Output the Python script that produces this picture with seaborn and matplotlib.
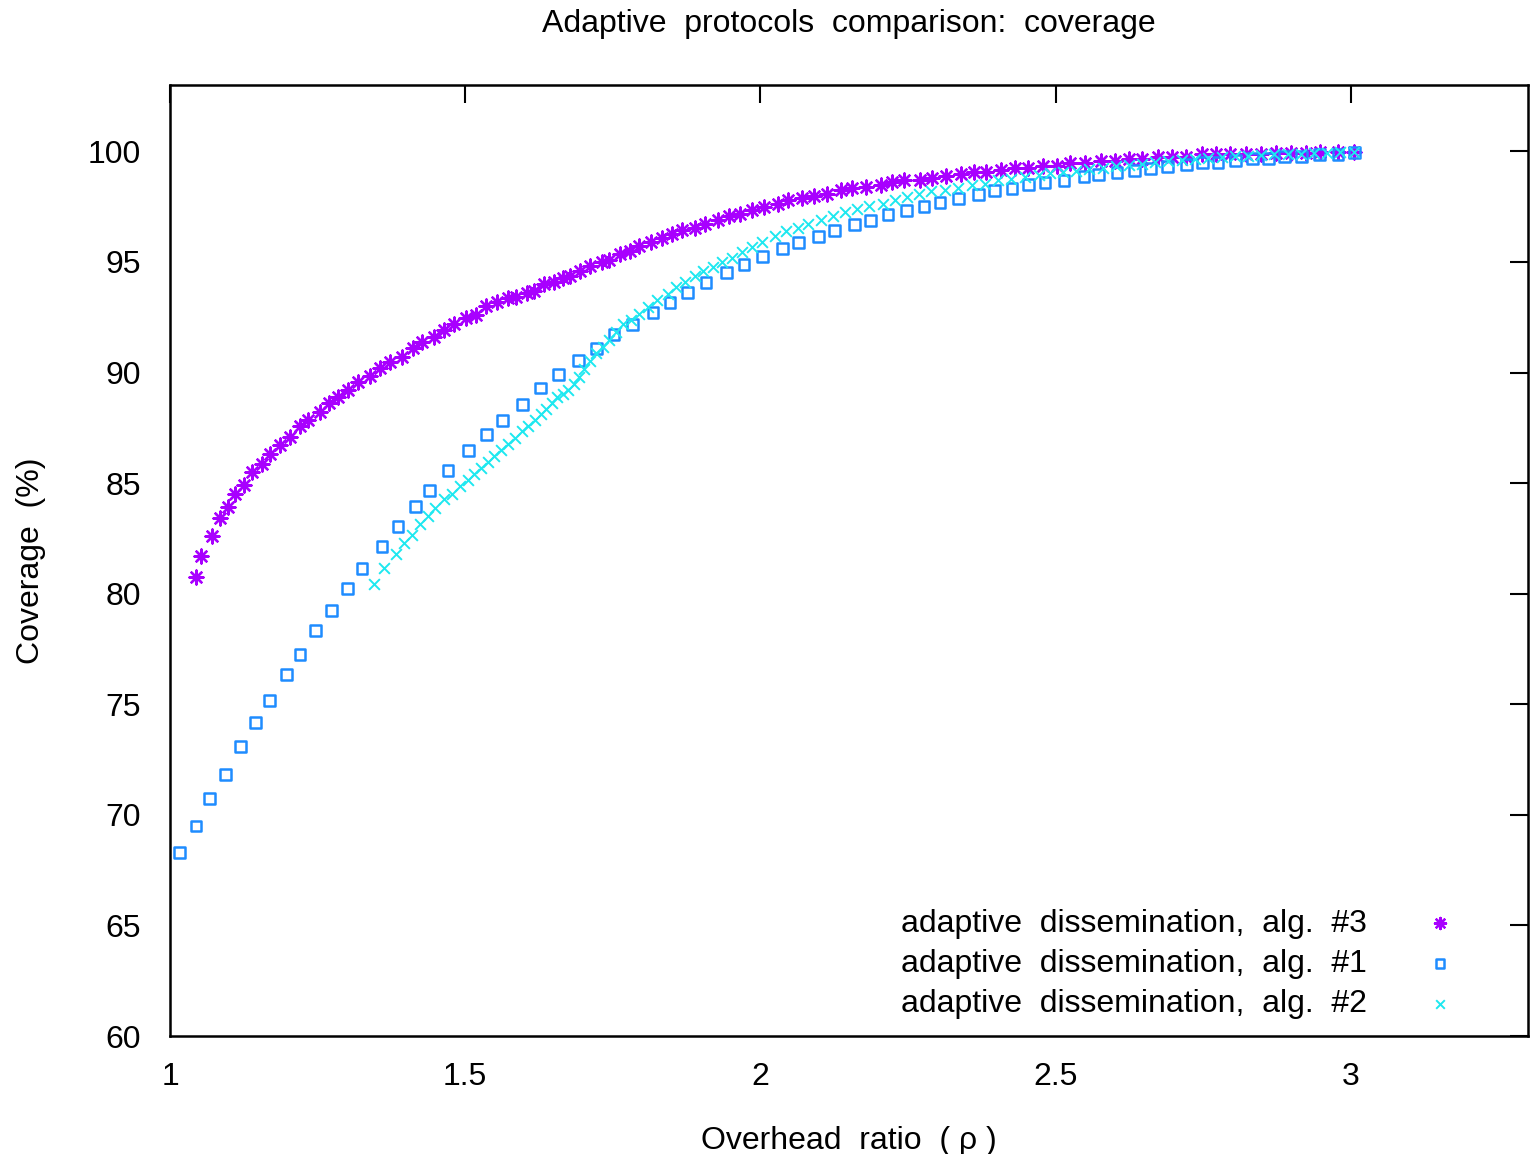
import matplotlib
matplotlib.use('Agg')
import matplotlib.pyplot as plt
import seaborn as sns

# data
x3 = [1.044, 1.053, 1.071, 1.084, 1.098, 1.110, 1.125, 1.139, 1.156, 1.170,
      1.186, 1.204, 1.220, 1.234, 1.254, 1.269, 1.285, 1.302, 1.318, 1.338,
      1.355, 1.372, 1.393, 1.411, 1.427, 1.447, 1.464, 1.481, 1.502, 1.519,
      1.536, 1.553, 1.573, 1.586, 1.604, 1.617, 1.634, 1.651, 1.666, 1.678,
      1.695, 1.712, 1.731, 1.743, 1.762, 1.779, 1.794, 1.814, 1.833, 1.851,
      1.868, 1.889, 1.906, 1.928, 1.946, 1.966, 1.986, 2.006, 2.030, 2.047,
      2.071, 2.091, 2.112, 2.136, 2.155, 2.179, 2.204, 2.223, 2.243, 2.270,
      2.291, 2.315, 2.339, 2.362, 2.382, 2.407, 2.431, 2.454, 2.479, 2.502,
      2.525, 2.549, 2.576, 2.600, 2.624, 2.647, 2.674, 2.697, 2.721, 2.748,
      2.772, 2.796, 2.823, 2.847, 2.874, 2.899, 2.924, 2.947, 2.978, 3.006]
y3 = [80.76, 81.7, 82.6, 83.4, 83.9, 84.5, 84.9, 85.5, 85.85, 86.3,
      86.7, 87.1, 87.6, 87.85, 88.2, 88.6, 88.9, 89.2, 89.56, 89.83,
      90.2, 90.46, 90.7, 91.1, 91.4, 91.6, 91.9, 92.2, 92.45, 92.6,
      93.0, 93.2, 93.35, 93.4, 93.6, 93.7, 94.0, 94.1, 94.26, 94.35,
      94.6, 94.8, 94.98, 95.07, 95.35, 95.5, 95.7, 95.9, 96.1, 96.25,
      96.46, 96.55, 96.7, 96.9, 97.06, 97.15, 97.36, 97.5, 97.6, 97.8,
      97.88, 97.97, 98.09, 98.24, 98.33, 98.4, 98.5, 98.6, 98.69, 98.69,
      98.78, 98.87, 98.99, 99.05, 99.05, 99.14, 99.23, 99.23, 99.35, 99.35,
      99.47, 99.47, 99.56, 99.56, 99.65, 99.65, 99.74, 99.74, 99.74, 99.86,
      99.86, 99.86, 99.9, 99.9, 99.92, 99.92, 99.92, 99.95, 99.95, 99.95]

x1 = [1.016, 1.044, 1.067, 1.094, 1.119, 1.145, 1.169, 1.197, 1.220, 1.247,
      1.274, 1.301, 1.325, 1.359, 1.386, 1.416, 1.440, 1.471, 1.505, 1.536,
      1.563, 1.597, 1.627, 1.658, 1.692, 1.722, 1.752, 1.783, 1.818, 1.847,
      1.877, 1.908, 1.942, 1.972, 2.003, 2.037, 2.064, 2.098, 2.125, 2.159,
      2.186, 2.216, 2.247, 2.277, 2.304, 2.335, 2.369, 2.396, 2.426, 2.454,
      2.482, 2.514, 2.548, 2.572, 2.604, 2.633, 2.660, 2.690, 2.721, 2.749,
      2.775, 2.804, 2.834, 2.861, 2.888, 2.917, 2.947, 2.978, 3.006]
y1 = [68.30, 69.49, 70.74, 71.83, 73.09, 74.18, 75.17, 76.35, 77.25, 78.34,
      79.24, 80.23, 81.14, 82.13, 83.04, 83.95, 84.68, 85.58, 86.49, 87.21,
      87.84, 88.56, 89.30, 89.92, 90.55, 91.08, 91.71, 92.18, 92.72, 93.18,
      93.63, 94.08, 94.53, 94.89, 95.25, 95.62, 95.89, 96.16, 96.43, 96.70,
      96.88, 97.15, 97.33, 97.51, 97.69, 97.88, 98.06, 98.24, 98.33, 98.51,
      98.60, 98.69, 98.87, 98.96, 99.05, 99.14, 99.23, 99.32, 99.41, 99.50,
      99.50, 99.59, 99.68, 99.68, 99.77, 99.77, 99.86, 99.86, 99.95]

x2 = [1.345, 1.362, 1.382, 1.396, 1.410, 1.424, 1.437, 1.449, 1.464, 1.478,
      1.492, 1.504, 1.515, 1.526, 1.539, 1.549, 1.561, 1.572, 1.585, 1.596,
      1.606, 1.618, 1.628, 1.637, 1.647, 1.656, 1.666, 1.674, 1.684, 1.692,
      1.702, 1.712, 1.722, 1.733, 1.743, 1.756, 1.767, 1.781, 1.795, 1.810,
      1.824, 1.843, 1.857, 1.873, 1.889, 1.903, 1.920, 1.935, 1.951, 1.968,
      1.986, 2.003, 2.024, 2.044, 2.064, 2.081, 2.102, 2.123, 2.143, 2.163,
      2.184, 2.207, 2.228, 2.248, 2.269, 2.289, 2.313, 2.335, 2.358, 2.380,
      2.403, 2.425, 2.448, 2.471, 2.490, 2.512, 2.535, 2.557, 2.580, 2.602,
      2.624, 2.647, 2.669, 2.691, 2.714, 2.736, 2.758, 2.781, 2.803, 2.826,
      2.848, 2.870, 2.893, 2.915, 2.937, 2.960, 2.982, 3.005]
y2 = [80.43, 81.14, 81.79, 82.30, 82.66, 83.14, 83.50, 83.88, 84.26, 84.50,
      84.89, 85.16, 85.40, 85.70, 85.96, 86.21, 86.49, 86.76, 87.06, 87.36,
      87.57, 87.87, 88.14, 88.37, 88.62, 88.89, 89.05, 89.23, 89.50, 89.80,
      90.18, 90.52, 90.86, 91.16, 91.46, 91.83, 92.18, 92.36, 92.66, 92.96,
      93.27, 93.57, 93.87, 94.09, 94.35, 94.59, 94.77, 95.00, 95.20, 95.45,
      95.67, 95.90, 96.16, 96.38, 96.55, 96.73, 96.91, 97.06, 97.26, 97.38,
      97.51, 97.64, 97.79, 97.93, 98.09, 98.21, 98.27, 98.36, 98.46, 98.54,
      98.69, 98.77, 98.84, 98.92, 99.00, 99.07, 99.13, 99.20, 99.26, 99.32,
      99.38, 99.44, 99.50, 99.55, 99.60, 99.65, 99.69, 99.73, 99.77, 99.80,
      99.83, 99.86, 99.88, 99.90, 99.92, 99.94, 99.95, 99.97]

labels = ['adaptive  dissemination,  alg.  #3',
          'adaptive  dissemination,  alg.  #1',
          'adaptive  dissemination,  alg.  #2']
colors = ['#a800ff', '#1e8cff', '#1ee8f0']

sns.set_style('white')
plt.rcParams['font.family'] = ['Liberation Sans', 'DejaVu Sans']
plt.rcParams['text.color'] = 'black'
plt.rcParams['axes.labelcolor'] = 'black'
fs = 23

fig = plt.figure(figsize=(15.3, 11.54), dpi=100)
ax = fig.add_axes([170/1530, 1 - 1036/1154, 1358/1530, 951/1154])

sns.scatterplot(x=x3, y=y3, ax=ax, marker=(8, 2, 0), s=100, color=colors[0],
                linewidth=1.7, label=labels[0])
sns.scatterplot(x=x1, y=y1, ax=ax, marker='s', s=60, facecolor='none',
                edgecolor=colors[1], linewidth=1.8, label=labels[1])
sns.scatterplot(x=x2, y=y2, ax=ax, marker='x', s=60, color=colors[2],
                linewidth=1.4, label=labels[2])

ax.set_xlim(1.0, 3.3)
ax.set_ylim(60, 103)
ax.set_xticks([1, 1.5, 2, 2.5, 3])
ax.set_xticklabels(['1', '1.5', '2', '2.5', '3'])
ax.set_yticks(range(60, 101, 5))
ax.tick_params(direction='in', length=13, width=1.5, labelsize=fs,
               top=True, right=True, colors='black', labelcolor='black')
ax.tick_params(axis='x', pad=19)
ax.tick_params(axis='y', pad=21)
for sp in ax.spines.values():
    sp.set_linewidth(1.8)
    sp.set_color('black')

ax.set_title('Adaptive  protocols  comparison:  coverage', fontsize=fs,
             pad=38, color='black')
ax.set_xlabel('Overhead  ratio  ( ρ )', fontsize=fs, labelpad=24, color='black')
ax.set_ylabel('Coverage  (%)', fontsize=fs, labelpad=30, color='black')

leg = ax.legend(loc='lower right', bbox_to_anchor=(1472/1530, 1 - 1019/1154),
                bbox_transform=fig.transFigure, frameon=False, markerfirst=False,
                fontsize=fs, handletextpad=1.3, handlelength=2, labelspacing=0.32,
                borderpad=0, borderaxespad=0, markerscale=0.8)
for t in leg.get_texts():
    t.set_color('black')

fig.savefig('out.png', dpi=100)
